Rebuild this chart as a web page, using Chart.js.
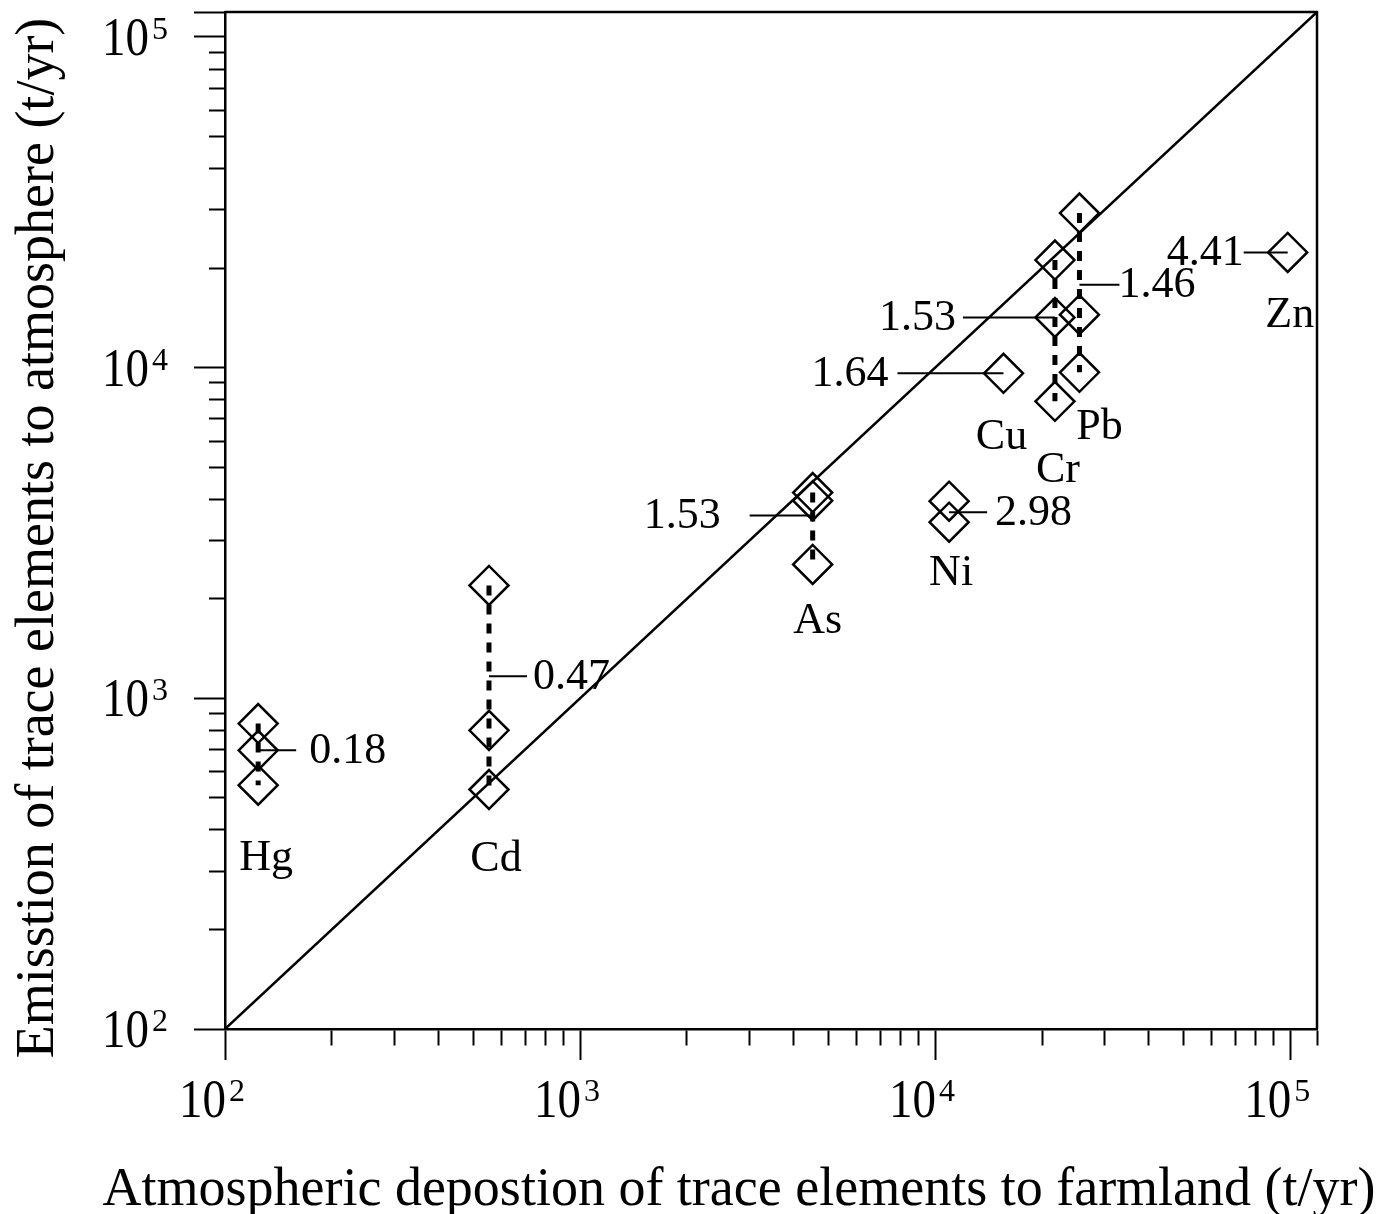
<!DOCTYPE html>
<html><head><meta charset="utf-8">
<script src="https://cdn.jsdelivr.net/npm/chart.js@4.4.1/dist/chart.umd.min.js"></script>
<style>html,body{margin:0;padding:0;background:#fff;}canvas{display:block;}</style>
</head><body>
<canvas id="chart" width="1394" height="1214"></canvas>
<script>
// ---------- data ----------
const elements = ['Hg', 'Cd', 'As', 'Ni', 'Cu', 'Cr', 'Pb', 'Zn'];
const deposition = [124, 554, 4520, 10950, 15580, 21750, 25500, 98400];      // x, t/yr
const emissionHigh = [839, 2194, 4190, 3947, 9612, 21150, 29340, 22300];      // y, t/yr
const emissionMid  = [696, 800, 3960, 3409, null, 14190, 14460, null];
const emissionLow  = [546, 530, 2540, null, null, 7910, 9680, null];
const ratioLabels  = ['0.18', '0.47', '1.53', '2.98', '1.64', '1.53', '1.46', '4.41'];
const ratioAnchor  = [696, 1166, 3572, 3655, 9612, 14190, 17815, 22300];     // y value where the ratio label points
const rangeDashed  = [true, true, true, false, false, true, true, false];
const axisMin = 100, axisMax = 119000;
const decadeTicks = [100, 1000, 10000, 100000];
const decadeExponents = ['2', '3', '4', '5'];
const minorMultipliers = [2, 3, 4, 5, 6, 7, 8, 9];
const xTitle = 'Atmospheric depostion of trace elements to farmland (t/yr)';
const yTitle = 'Emisstion of trace elements to atmosphere (t/yr)';

// ---------- styles / layout ----------
const FONT = '"Liberation Serif", "Times New Roman", serif';
const leader = {
  Hg: {side: 1, len: 38, gap: 13}, Cd: {side: 1, len: 38, gap: 6}, As: {side: -1, len: 63, gap: 29},
  Ni: {side: 1, len: 38, gap: 8}, Cu: {side: -1, len: 106, gap: 9}, Cr: {side: -1, len: 92, gap: 7},
  Pb: {side: 1, len: 40, gap: -1}, Zn: {side: -1, len: 44, gap: 0}
};
const nameOffset = {Hg: [8, 85], Cd: [7, 81], As: [5, 69], Ni: [2, 63], Cu: [-2, 76], Cr: [3, 81], Pb: [20, 67], Zn: [2, 75]};

const tickValues = decadeTicks.slice();
decadeTicks.forEach(d => minorMultipliers.forEach(m => { if (d * m < axisMax) tickValues.push(d * m); }));
tickValues.push(axisMax);
tickValues.sort((a, b) => a - b);
const isDecade = v => decadeTicks.includes(v);

// ---------- datasets ----------
const datasets = [];
const pts = [];
elements.forEach((el, i) => {
  [emissionHigh[i], emissionMid[i], emissionLow[i]].forEach(v => { if (v != null) pts.push({x: deposition[i], y: v}); });
});
datasets.push({
  label: 'estimates', data: pts, pointStyle: 'rectRot', pointRadius: 19.5, pointHoverRadius: 19.5,
  borderColor: '#000', backgroundColor: 'rgba(0,0,0,0)', borderWidth: 2.5, showLine: false
});
elements.forEach((el, i) => {
  if (!rangeDashed[i]) return;
  const lo = [emissionLow[i], emissionMid[i], emissionHigh[i]].find(v => v != null);
  datasets.push({
    label: el + ' range', data: [{x: deposition[i], y: emissionHigh[i]}, {x: deposition[i], y: lo}],
    showLine: true, borderColor: '#000', borderWidth: 5, borderDash: [10, 9], pointRadius: 0
  });
});
datasets.push({
  label: '1:1', data: [{x: axisMin, y: axisMin}, {x: axisMax, y: axisMax}],
  showLine: true, borderColor: '#000', borderWidth: 2.5, pointRadius: 0
});

// ---------- drawing helpers ----------
function drawPow(ctx, xRight, baseline, exp) {
  ctx.save();
  ctx.fillStyle = '#000';
  ctx.textAlign = 'right'; ctx.textBaseline = 'alphabetic';
  ctx.font = '47px ' + FONT;
  ctx.translate(xRight, baseline); ctx.scale(1, 1.18);
  ctx.fillText('10', 0, 0);
  ctx.restore();
  ctx.save();
  ctx.fillStyle = '#000';
  ctx.textAlign = 'left'; ctx.textBaseline = 'alphabetic';
  ctx.font = '32px ' + FONT;
  ctx.fillText(exp, xRight + 3, baseline - 16);
  ctx.restore();
}

const decor = {
  id: 'decor',
  beforeDraw(chart) {
    const c = chart.ctx;
    c.save(); c.fillStyle = '#fff'; c.fillRect(0, 0, chart.width, chart.height); c.restore();
  },
  afterDraw(chart) {
    const {ctx, chartArea: a, scales: {x, y}} = chart;
    ctx.save();
    ctx.strokeStyle = '#000'; ctx.fillStyle = '#000';
    // top / right frame
    ctx.lineWidth = 2.5;
    ctx.beginPath(); ctx.moveTo(a.left, a.top); ctx.lineTo(a.right, a.top); ctx.lineTo(a.right, a.bottom); ctx.stroke();
    // tick labels
    decadeTicks.forEach((v, k) => {
      drawPow(ctx, x.getPixelForValue(v) + 1, a.bottom + 88, decadeExponents[k]);
      drawPow(ctx, a.left - 76, y.getPixelForValue(v) + 18, decadeExponents[k]);
    });
    // axis titles
    ctx.font = '54px ' + FONT; ctx.textBaseline = 'alphabetic'; ctx.textAlign = 'center';
    ctx.fillText(xTitle, 739, 1205);
    ctx.save(); ctx.translate(53, 538); ctx.rotate(-Math.PI / 2); ctx.fillText(yTitle, 0, 0); ctx.restore();
    // ratio leaders + labels, element names
    ctx.lineWidth = 2;
    elements.forEach((el, i) => {
      const px = x.getPixelForValue(deposition[i]);
      const py = y.getPixelForValue(ratioAnchor[i]);
      const s = leader[el];
      const end = px + s.side * s.len;
      ctx.beginPath(); ctx.moveTo(px, py); ctx.lineTo(end, py); ctx.stroke();
      ctx.font = '44px ' + FONT; ctx.textBaseline = 'middle';
      ctx.textAlign = s.side > 0 ? 'left' : 'right';
      ctx.fillText(ratioLabels[i], end + s.side * s.gap, py + 1);
      const lo = [emissionLow[i], emissionMid[i], emissionHigh[i]].find(v => v != null);
      const o = nameOffset[el];
      ctx.textAlign = 'center'; ctx.textBaseline = 'alphabetic';
      ctx.fillText(el, px + o[0], y.getPixelForValue(lo) + o[1]);
    });
    ctx.restore();
  }
};

const tickDash = (ctx, horizontal) => {
  if (!ctx.tick) return [];
  const v = ctx.tick.value;
  const major = isDecade(v) || (!horizontal && v === axisMax);
  if (major) return [];
  return horizontal ? [15, 100] : [0, 15, 15, 100];
};

new Chart(document.getElementById('chart'), {
  type: 'scatter',
  data: {datasets},
  options: {
    responsive: false, animation: false, devicePixelRatio: 1, events: [],
    layout: {autoPadding: false, padding: {left: 194, right: 77, top: 12, bottom: 154}},
    plugins: {legend: {display: false}, tooltip: {enabled: false}},
    scales: {
      x: {
        type: 'logarithmic', min: axisMin, max: axisMax,
        afterBuildTicks: s => { s.ticks = tickValues.map(v => ({value: v, major: isDecade(v)})); },
        ticks: {display: false},
        grid: {display: true, drawOnChartArea: false, drawTicks: true, tickLength: 31, tickWidth: 2, tickColor: '#000',
               tickBorderDash: c => tickDash(c, true)},
        border: {display: true, color: '#000', width: 2.5}
      },
      y: {
        type: 'logarithmic', min: axisMin, max: axisMax,
        afterBuildTicks: s => { s.ticks = tickValues.map(v => ({value: v, major: isDecade(v)})); },
        ticks: {display: false},
        grid: {display: true, drawOnChartArea: false, drawTicks: true, tickLength: 31, tickWidth: 2, tickColor: '#000',
               tickBorderDash: c => tickDash(c, false)},
        border: {display: true, color: '#000', width: 2.5}
      }
    }
  },
  plugins: [decor]
});
</script>
</body></html>
